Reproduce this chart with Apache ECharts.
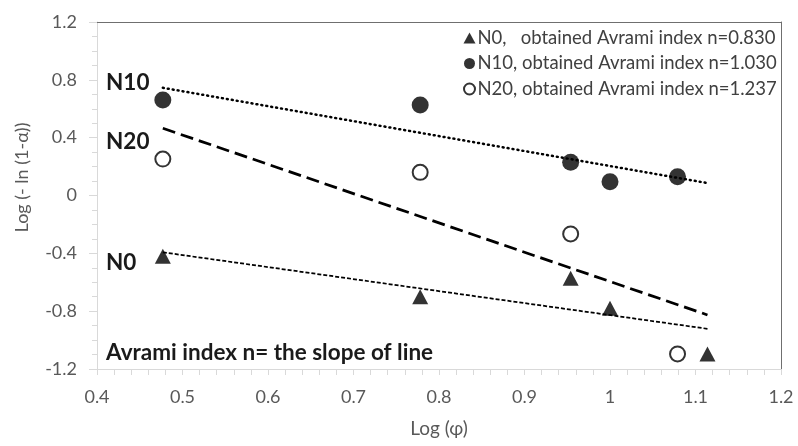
<!DOCTYPE html>
<html>
<head>
<meta charset="utf-8">
<script src="https://cdn.jsdelivr.net/npm/echarts@6/dist/echarts.min.js"></script>
<style>
  html, body { margin: 0; padding: 0; background: #fff; }
  #chart { width: 798px; height: 446px; }
</style>
</head>
<body>
<div id="chart"></div>
<script>
// Log(phi) values of the heating rates
const logPhi = [0.477, 0.778, 0.954, 1.0, 1.079, 1.114];

// Log(-ln(1-alpha)) for each sample
const n0X = [0.477, 0.778, 0.954, 1.0, 1.114];
const n0Y = [-0.42, -0.70, -0.573, -0.78, -1.096];

const n10X = [0.477, 0.778, 0.954, 1.0, 1.079];
const n10Y = [0.66, 0.626, 0.23, 0.095, 0.13];

const n20X = [0.477, 0.778, 0.954, 1.079];
const n20Y = [0.252, 0.16, -0.266, -1.096];

// Linear trend lines: end points
const trendX = [0.477, 1.114];
const n0Trend = [-0.393, -0.922];
const n10Trend = [0.745, 0.086];
const n20Trend = [0.465, -0.826];

const legendNames = [
  'N0,   obtained Avrami index n=0.830',
  'N10, obtained Avrami index n=1.030',
  'N20, obtained Avrami index n=1.237'
];

const xTicks = { min: 0.4, max: 1.2, step: 0.1 };
const yTicks = { min: -1.2, max: 1.2, step: 0.4 };

const pairs = (xs, ys) => xs.map((x, i) => [x, ys[i]]);

const FONT = 'Lato, "Open Sans", sans-serif';
const axisGray = '#d9d9d9';
const frameGray = '#6f6f6f';
const labelGray = '#595959';

const chart = echarts.init(document.getElementById('chart'), null, { renderer: 'canvas' });

const option = {
  backgroundColor: '#fff',
  animation: false,
  textStyle: { fontFamily: FONT },
  grid: { left: 97, right: 17, top: 22, bottom: 77 },
  legend: {
    orient: 'vertical',
    left: 458,
    top: 23,
    itemWidth: 12,
    itemHeight: 11,
    itemGap: 5.5,
    data: legendNames,
    textStyle: { fontFamily: FONT, fontSize: 18.5, color: '#404040', lineHeight: 20, padding: [0, 0, 0, -3] }
  },
  xAxis: [{
    type: 'value',
    min: xTicks.min, max: xTicks.max, interval: xTicks.step,
    name: 'Log (φ)',
    nameLocation: 'middle',
    nameGap: 50,
    nameTextStyle: { fontFamily: FONT, fontSize: 19, color: labelGray },
    axisLine: { show: true, onZero: false, lineStyle: { color: axisGray, width: 1 } },
    axisTick: { show: true, length: 6, lineStyle: { color: axisGray } },
    minorTick: { show: true, splitNumber: 5, length: 6, lineStyle: { color: axisGray } },
    splitLine: { show: false },
    axisLabel: {
      fontFamily: FONT, fontSize: 18, color: labelGray, margin: 19,
      formatter: v => String(Math.round(v * 10) / 10)
    }
  }, {
    type: 'value', position: 'top',
    min: xTicks.min, max: xTicks.max,
    axisLine: { show: true, onZero: false, lineStyle: { color: frameGray, width: 1 } },
    axisTick: { show: false }, axisLabel: { show: false }, splitLine: { show: false }
  }],
  yAxis: [{
    type: 'value',
    min: yTicks.min, max: yTicks.max, interval: yTicks.step,
    name: 'Log (- ln (1-α))',
    nameLocation: 'middle',
    nameGap: 66,
    nameTextStyle: { fontFamily: FONT, fontSize: 18, color: labelGray, padding: [0, 0, 0, 36] },
    axisLine: { show: true, onZero: false, lineStyle: { color: axisGray, width: 1 } },
    axisTick: { show: true, length: 8, lineStyle: { color: axisGray } },
    minorTick: { show: true, splitNumber: 4, length: 5, lineStyle: { color: axisGray } },
    splitLine: { show: false },
    axisLabel: {
      fontFamily: FONT, fontSize: 18, color: labelGray, margin: 20,
      formatter: v => String(Math.round(v * 10) / 10)
    }
  }, {
    type: 'value', position: 'right',
    min: yTicks.min, max: yTicks.max,
    axisLine: { show: true, onZero: false, lineStyle: { color: frameGray, width: 1 } },
    axisTick: { show: false }, axisLabel: { show: false }, splitLine: { show: false }
  }],
  series: [
    {
      name: 'N0 trend', type: 'line', symbol: 'none', silent: true, z: 2,
      data: pairs(trendX, n0Trend),
      lineStyle: { color: '#000', width: 1.75, type: [4, 2] }
    },
    {
      name: 'N10 trend', type: 'line', symbol: 'none', silent: true, z: 2,
      data: pairs(trendX, n10Trend),
      lineStyle: { color: '#000', width: 2.5, type: [1, 4], cap: 'round' }
    },
    {
      name: 'N20 trend', type: 'line', symbol: 'none', silent: true, z: 2,
      data: pairs(trendX, n20Trend),
      lineStyle: { color: '#000', width: 2.75, type: [13, 6] }
    },
    {
      name: legendNames[0], type: 'scatter', z: 3,
      symbol: 'triangle', symbolSize: [16, 15],
      itemStyle: { color: '#000' },
      data: pairs(n0X, n0Y)
    },
    {
      name: legendNames[1], type: 'scatter', z: 3,
      symbol: 'circle', symbolSize: 17,
      itemStyle: { color: '#000' },
      data: pairs(n10X, n10Y)
    },
    {
      name: legendNames[2], type: 'scatter', z: 3,
      symbol: 'circle', symbolSize: 15,
      itemStyle: { color: '#fff', borderColor: '#000', borderWidth: 2 },
      data: pairs(n20X, n20Y)
    }
  ],
  graphic: [
    { type: 'text', left: 106, top: 71, style: { text: 'N10', font: 'bold 22.5px ' + FONT, fill: '#1a1a1a' } },
    { type: 'text', left: 106, top: 130, style: { text: 'N20', font: 'bold 22.5px ' + FONT, fill: '#1a1a1a' } },
    { type: 'text', left: 106, top: 251, style: { text: 'N0', font: 'bold 22.5px ' + FONT, fill: '#1a1a1a' } },
    { type: 'text', left: 106, top: 341, style: { text: 'Avrami index n= the slope of line', font: 'bold 22.5px ' + FONT, fill: '#1a1a1a' } }
  ]
};

chart.setOption(option);
</script>
</body>
</html>
